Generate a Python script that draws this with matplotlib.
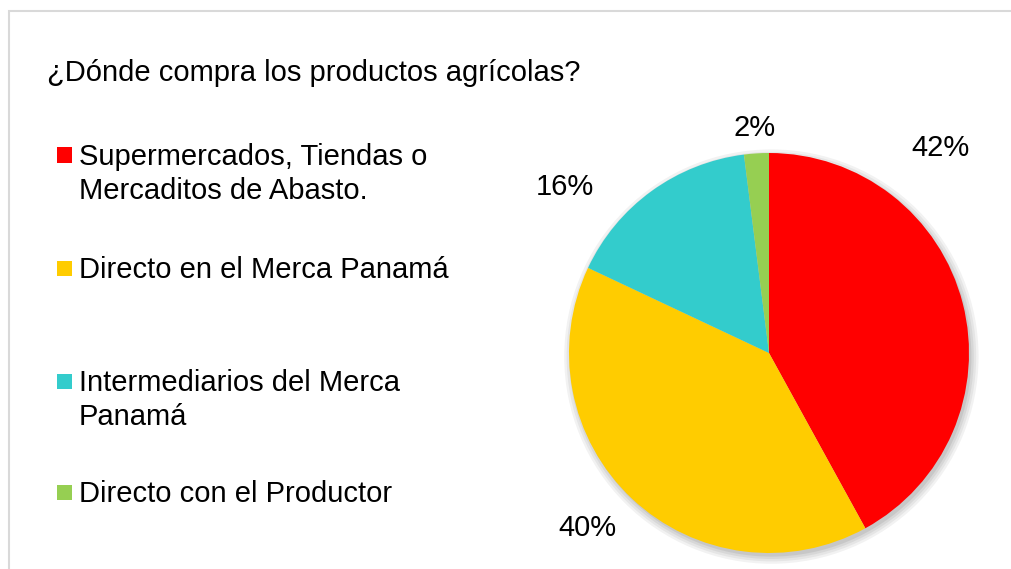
import matplotlib.pyplot as plt
from matplotlib.patches import Rectangle, Circle

plt.rcParams['font.family'] = ['Liberation Sans', 'DejaVu Sans']

title = "¿Dónde compra los productos agrícolas?"
categories = [
    "Supermercados, Tiendas o\nMercaditos de Abasto.",
    "Directo en el Merca Panamá",
    "Intermediarios del Merca\nPanamá",
    "Directo con el Productor",
]
shares = [42, 40, 16, 2]
colors = ["#FF0000", "#FFCC00", "#33CCCC", "#96CF52"]

# layout only: where Excel put the percentage labels (pie radius units)
label_xy = [(0.855, 1.025), (-0.91, -0.875), (-1.02, 0.83), (-0.07, 1.125)]
legend_y = [155, 268, 381, 492]  # px from top, first line of each entry

W, H = 1011, 569
fig = plt.figure(figsize=(W / 100, H / 100), dpi=100)
fig.patch.set_facecolor("white")

# chart frame (only top/left visible in the crop)
fig.add_artist(Rectangle((9 / W, -0.1), 2, (H - 11) / H + 0.1, transform=fig.transFigure,
                         fill=False, edgecolor="#d9d9d9", lw=1.5))

fig.text(47 / W, 1 - 73 / H, title, fontsize=21, va="center", ha="left")

for lab, col, y in zip(categories, colors, legend_y):
    fig.add_artist(Rectangle((57 / W, 1 - (y + 7.5) / H), 15 / W, 15 / H,
                             transform=fig.transFigure, facecolor=col, edgecolor="none"))
    fig.text(79 / W, 1 - (y - 12) / H, lab, fontsize=21, va="top", ha="left",
             linespacing=1.27)

cx, cy, r = 769, 353, 200
ax = fig.add_axes([(cx - r) / W, (H - cy - r) / H, 2 * r / W, 2 * r / H])

# soft shadow under the pie
for k, a in enumerate([0.05, 0.05, 0.06, 0.07]):
    ax.add_patch(Circle((0.012, -0.018), 1.0 + 0.012 * (3 - k), facecolor="#000000",
                        alpha=a, edgecolor="none", clip_on=False, zorder=0))

wedges, _, pcts = ax.pie(shares, colors=colors, startangle=90, counterclock=False,
                         autopct="%1.0f%%", labels=None,
                         wedgeprops=dict(linewidth=0, zorder=1),
                         textprops=dict(fontsize=21, color="black"))
for w in wedges:
    w.set_clip_on(False)
for t, (x, y) in zip(pcts, label_xy):
    t.set_position((x, y))
    t.set_clip_on(False)

ax.set_xlim(-1, 1)
ax.set_ylim(-1, 1)
ax.set_aspect("equal")
ax.axis("off")

fig.savefig("out.png", dpi=100, facecolor="white")
